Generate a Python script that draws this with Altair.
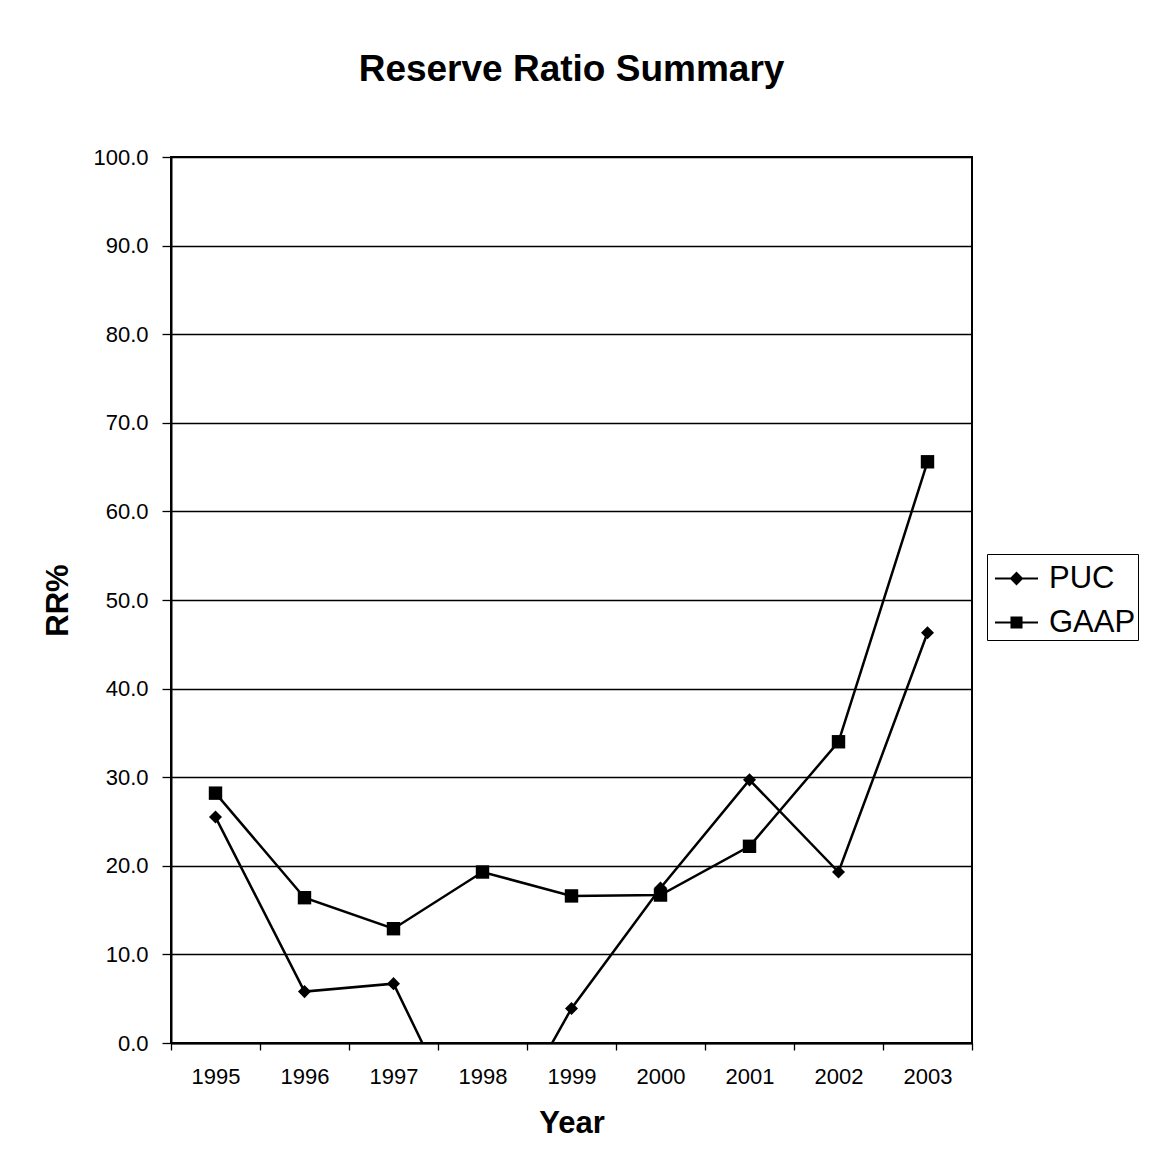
import altair as alt
import pandas as pd

# Reserve ratio (%) by year for the two accounting bases
years = ["1995", "1996", "1997", "1998", "1999", "2000", "2001", "2002", "2003"]
puc = [25.5, 5.8, 6.7, -14.0, 3.9, 17.5, 29.7, 19.3, 46.3]
gaap = [28.2, 16.4, 12.9, 19.3, 16.6, 16.7, 22.2, 34.0, 65.6]
series = ["PUC", "GAAP"]

rows = []
for name, vals in zip(series, [puc, gaap]):
    for yr, v in zip(years, vals):
        rows.append({"Year": yr, "RR": v, "Series": name})
df = pd.DataFrame(rows)

FONT = "Liberation Sans"

x_enc = alt.X(
    "Year:O",
    sort=years,
    scale=alt.Scale(type="band", paddingInner=0, paddingOuter=0),
    axis=alt.Axis(
        title="Year",
        labelAngle=0,
        tickBand="extent",
        tickSize=7,
        labelPadding=26,
        labelBaseline="middle",
        labelFontSize=22,
        titleFontSize=31,
        titleFontWeight="bold",
        titleY=80,
        titleBaseline="middle",
        grid=False,
    ),
)
y_enc = alt.Y(
    "RR:Q",
    scale=alt.Scale(domain=[0, 100], nice=False, zero=False),
    axis=alt.Axis(
        title="RR%",
        values=list(range(0, 101, 10)),
        format=".1f",
        tickSize=9,
        labelPadding=14,
        labelFontSize=22,
        titleFontSize=31,
        titleFontWeight="bold",
        titleAngle=270,
        titleX=-113,
        titleY=443,
        titleAlign="center",
        titleBaseline="middle",
        grid=True,
        gridColor="black",
        gridWidth=1.3,
    ),
)

base = alt.Chart(df).encode(x=x_enc, y=y_enc)

lines = base.mark_line(color="black", strokeWidth=2.5, clip=True).encode(
    detail="Series:N"
)

# Series markers: diamonds for PUC, squares for GAAP
puc_points = base.transform_filter(alt.datum.Series == "PUC").mark_point(
    filled=True, color="black", opacity=1, shape="diamond", size=170, clip=True
)
gaap_points = base.transform_filter(alt.datum.Series == "GAAP").mark_point(
    filled=True, color="black", opacity=1, shape="square", size=180, clip=True
)

# Legend symbols: a short line segment with the series marker on it
legend_paths = [
    "M-1,-0.05H1V0.05H-1Z M0,-0.32L0.32,0L0,0.32L-0.32,0Z",
    "M-1,-0.05H1V0.05H-1Z M-0.28,-0.28H0.28V0.28H-0.28Z",
]
legend_layer = (
    base.transform_filter(alt.datum.RR < -1000)
    .mark_point(filled=True, color="black", opacity=1, size=1849)
    .encode(
        shape=alt.Shape(
            "Series:N",
            scale=alt.Scale(domain=series, range=legend_paths),
            legend=alt.Legend(
                title=None,
                orient="none",
                legendX=816,
                legendY=397,
                strokeColor="black",
                padding=2,
                symbolOffset=5,
                symbolSize=1849,
                symbolFillColor="black",
                symbolOpacity=1,
                labelFontSize=31,
                labelFont=FONT,
                labelOffset=10,
                rowPadding=6,
                labelLimit=300,
            ),
        )
    )
)

chart = (
    alt.layer(lines, puc_points, gaap_points, legend_layer)
    .properties(
        width=801,
        height=886,
        title=alt.TitleParams(
            "Reserve Ratio Summary",
            fontSize=37,
            fontWeight="bold",
            font=FONT,
            anchor="middle",
            offset=57,
            color="black",
        ),
        autosize=alt.AutoSizeParams(type="none"),
        padding={"left": 171, "top": 157, "right": 188, "bottom": 128},
    )
    .configure(font=FONT, background="white")
    .configure_view(stroke="black", strokeWidth=2)
    .configure_axis(
        labelFont=FONT,
        titleFont=FONT,
        labelColor="black",
        titleColor="black",
        domainColor="black",
        domainWidth=2,
        tickColor="black",
        tickWidth=1.3,
    )
)

chart.save("out.html", embed_options={"renderer": "svg", "actions": False})
